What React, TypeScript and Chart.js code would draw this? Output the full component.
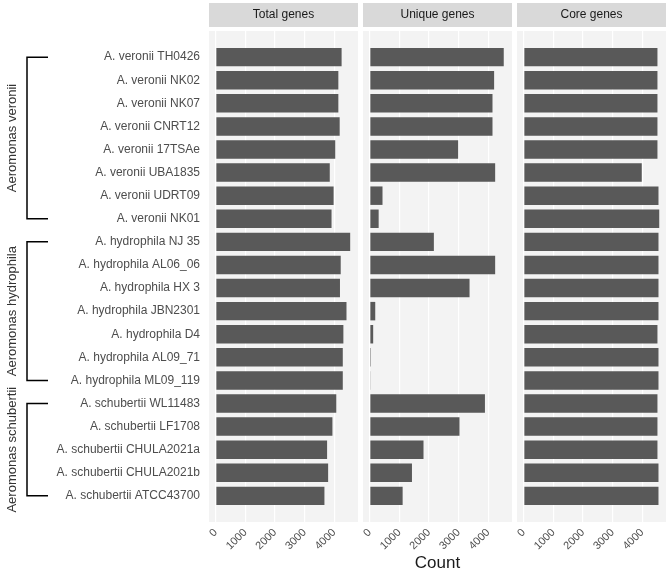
import { useEffect, useRef } from "react";
import { Chart, registerables } from "chart.js";

Chart.register(...registerables);

// ---------------- data ----------------
const strains = [
  "A. veronii TH0426",
  "A. veronii NK02",
  "A. veronii NK07",
  "A. veronii CNRT12",
  "A. veronii 17TSAe",
  "A. veronii UBA1835",
  "A. veronii UDRT09",
  "A. veronii NK01",
  "A. hydrophila NJ 35",
  "A. hydrophila AL06_06",
  "A. hydrophila HX 3",
  "A. hydrophila JBN2301",
  "A. hydrophila D4",
  "A. hydrophila AL09_71",
  "A. hydrophila ML09_119",
  "A. schubertii WL11483",
  "A. schubertii LF1708",
  "A. schubertii CHULA2021a",
  "A. schubertii CHULA2021b",
  "A. schubertii ATCC43700",
];

const totalGenes = [
  4250, 4140, 4140, 4185, 4035, 3850, 3980, 3910,
  4540, 4220, 4195, 4415, 4310, 4290, 4290,
  4070, 3940, 3760, 3795, 3670,
];

const uniqueGenes = [
  4525, 4200, 4145, 4145, 2985, 4235, 430, 300,
  2165, 4235, 3370, 185, 115, 35, 15,
  3890, 3030, 1815, 1425, 1110,
];

const coreGenes = [
  4515, 4515, 4515, 4515, 4515, 3985, 4550, 4575,
  4550, 4550, 4550, 4550, 4515, 4550, 4550,
  4515, 4515, 4515, 4550, 4550,
];

const panelTitles = ["Total genes", "Unique genes", "Core genes"];
const xTickValues = [0, 1000, 2000, 3000, 4000];
const xTickLabels = ["0", "1000", "2000", "3000", "4000"];

const groupNames = ["Aeromonas veronii", "Aeromonas hydrophila", "Aeromonas schubertii"];
const groupFirst = [0, 8, 15];
const groupLast = [7, 14, 19];

// ---------------- layout / style ----------------
const W = 669;
const H = 574;
const FONT = "'Liberation Sans', Arial, Helvetica, sans-serif";
const panelLeft = [209, 363, 517];
const panelWidth = 149;
const panelTop = 31;
const axisHeight = 52;

const allValues = [totalGenes, uniqueGenes, coreGenes];
const dataMax = Math.max(...totalGenes, ...uniqueGenes, ...coreGenes);

function panelPlugin(title: string) {
  return {
    id: "panelBg",
    beforeDraw(chart: any) {
      const { ctx, chartArea: a } = chart;
      ctx.save();
      ctx.fillStyle = "#F3F3F3";
      ctx.fillRect(a.left, a.top, a.right - a.left, a.bottom - a.top);
      ctx.fillStyle = "#D9D9D9";
      ctx.fillRect(a.left, a.top - 28, a.right - a.left, 24);
      ctx.fillStyle = "#1A1A1A";
      ctx.font = `12px ${FONT}`;
      ctx.textAlign = "center";
      ctx.textBaseline = "middle";
      ctx.fillText(title, (a.left + a.right) / 2, a.top - 16);
      ctx.restore();
    },
  };
}

const bracketPlugin = {
  id: "groupBrackets",
  afterDraw(chart: any) {
    const y = chart.scales.y;
    const ctx = chart.ctx;
    ctx.save();
    groupNames.forEach((name, g) => {
      const y0 = y.getPixelForValue(groupFirst[g]);
      const y1 = y.getPixelForValue(groupLast[g]);
      ctx.strokeStyle = "#000000";
      ctx.lineWidth = 1.5;
      ctx.beginPath();
      ctx.moveTo(48, y0);
      ctx.lineTo(27, y0);
      ctx.lineTo(27, y1);
      ctx.lineTo(48, y1);
      ctx.stroke();
      ctx.save();
      ctx.translate(12, (y0 + y1) / 2);
      ctx.rotate(-Math.PI / 2);
      ctx.font = `13px ${FONT}`;
      ctx.fillStyle = "#333333";
      ctx.textAlign = "center";
      ctx.textBaseline = "middle";
      ctx.fillText(name, 0, 0);
      ctx.restore();
    });
    ctx.restore();
  },
};

function makeConfig(k: number): any {
  const values = allValues[k];
  const yScale: any = {
    type: "linear",
    reverse: true,
    min: -0.6,
    max: strains.length - 1 + 0.6,
    display: k === 0,
    afterBuildTicks: (s: any) => {
      s.ticks = strains.map((_, i) => ({ value: i }));
    },
    grid: { display: false, drawTicks: false },
    border: { display: false },
    ticks: {
      autoSkip: false,
      padding: 9,
      color: "#4D4D4D",
      font: { family: FONT, size: 12 },
      callback: (v: any) => strains[Math.round(Number(v))],
    },
  };
  if (k === 0) {
    yScale.afterFit = (s: any) => {
      s.width = panelLeft[0];
    };
  }
  return {
    type: "bar",
    data: {
      datasets: [
        {
          data: values.map((v, i) => ({ x: v, y: i })),
          backgroundColor: "#595959",
          borderWidth: 0,
          barPercentage: 0.8,
          categoryPercentage: 1,
        },
      ],
    },
    options: {
      indexAxis: "y",
      animation: false,
      responsive: false,
      events: [],
      layout: {
        padding: {
          left: k === 0 ? 0 : panelLeft[k],
          right: W - panelLeft[k] - panelWidth,
          top: panelTop,
          bottom: 0,
        },
      },
      plugins: {
        legend: { display: false },
        tooltip: { enabled: false },
      },
      scales: {
        x: {
          type: "linear",
          min: -0.05 * dataMax,
          max: 1.05 * dataMax,
          afterBuildTicks: (s: any) => {
            s.ticks = xTickValues.map((v) => ({ value: v }));
          },
          afterFit: (s: any) => {
            s.height = axisHeight;
          },
          grid: { color: "#FFFFFF", lineWidth: 1.2, drawTicks: false },
          border: { display: false },
          ticks: {
            autoSkip: false,
            minRotation: 45,
            maxRotation: 45,
            padding: 4,
            color: "#4D4D4D",
            font: { family: FONT, size: 11 },
            callback: (v: any) => {
              const idx = xTickValues.indexOf(Number(v));
              return idx >= 0 ? xTickLabels[idx] : "";
            },
          },
          title:
            k === 1
              ? {
                  display: true,
                  text: "Count",
                  color: "#1A1A1A",
                  font: { family: FONT, size: 17 },
                  padding: 0,
                }
              : { display: false },
        },
        y: yScale,
      },
    },
    plugins: k === 0 ? [panelPlugin(panelTitles[k]), bracketPlugin] : [panelPlugin(panelTitles[k])],
  };
}

export default function App() {
  const r0 = useRef<HTMLCanvasElement>(null);
  const r1 = useRef<HTMLCanvasElement>(null);
  const r2 = useRef<HTMLCanvasElement>(null);
  const refs = [r0, r1, r2];

  useEffect(() => {
    const charts = refs.map((r, k) => new Chart(r.current as HTMLCanvasElement, makeConfig(k)));
    return () => charts.forEach((c) => c.destroy());
  }, []);

  return (
    <div style={{ position: "absolute", left: 0, top: 0, width: W, height: H, background: "#FFFFFF" }}>
      {refs.map((r, k) => (
        <canvas
          key={k}
          ref={r}
          width={W}
          height={H}
          style={{ position: "absolute", left: 0, top: 0, width: W, height: H }}
        />
      ))}
    </div>
  );
}
